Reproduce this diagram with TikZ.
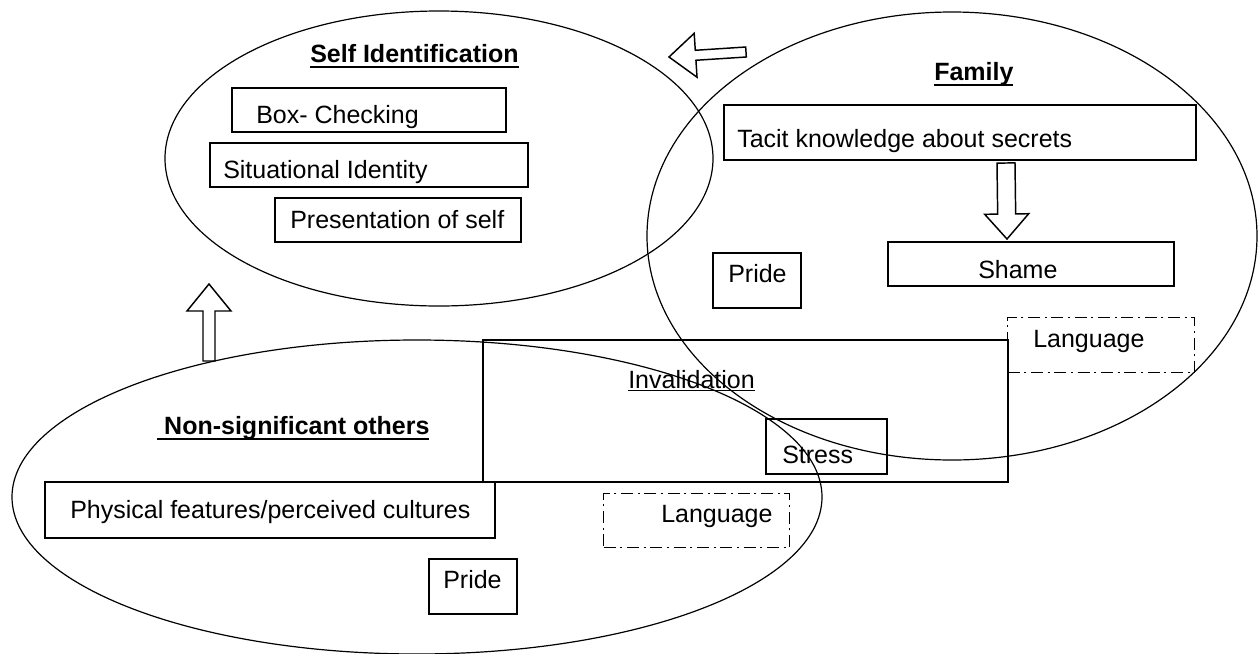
\documentclass[tikz,border=0pt]{standalone}
\usepackage{fontspec}
\setmainfont{Liberation Sans}
\usetikzlibrary{shapes.geometric,calc}
\newcommand\ulx[3]{\setbox0\hbox{#3}\rlap{\rule[#1]{\wd0}{#2}}\box0}
% block arrow: #1 tail, #2 tip, #3 shaft half width, #4 head half width, #5 head length
\newcommand\blockarr[5]{%
  \coordinate (hb) at ($(#2)!#5!(#1)$);
  \draw[arrowline] ($(#1)!#3!90:(#2)$) -- ($(hb)!#3!90:(#2)$) -- ($(hb)!#4!90:(#2)$)
    -- (#2) -- ($(hb)!#4!-90:(#2)$) -- ($(hb)!#3!-90:(#2)$) -- ($(#1)!#3!-90:(#2)$) -- cycle;}
\begin{document}
\begin{tikzpicture}[x=0.75pt,y=-0.75pt,
  oval/.style={draw, ellipse, line width=0.9pt, inner sep=0pt},
  box/.style={draw, line width=1.2pt, inner sep=0pt, anchor=north west},
  dbox/.style={box, line width=1.1pt, dash pattern=on 9pt off 3.5pt on 1.5pt off 3.5pt},
  sz/.style 2 args={minimum width=#1*0.75pt, minimum height=#2*0.75pt},
  txt/.style={inner sep=0pt, anchor=base west, font=\fontsize{18.75pt}{22pt}\selectfont},
  ttl/.style={inner sep=0pt, anchor=base west, font=\fontsize{18.75pt}{22pt}\selectfont\bfseries},
  arrowline/.style={line width=1.1pt, line join=miter}]

\useasboundingbox (0,0) rectangle (1258,654);

% ellipses
\node[oval, sz={548}{295}] (self) at (439,158.5) {};
\node[oval, sz={610}{448}] (family) at (952,236) {};
\node[oval, sz={810}{314}] (nonsig) at (417,497) {};

% Self identification
\node[ttl] (selft) at (310,62) {\ulx{-4.8pt}{1.9pt}{Self Identification}};
\node[box, sz={274}{44}] (boxc) at (231,87) {};
\node[txt] (boxct) at (256,123) {Box- Checking};
\node[box, sz={318}{44}] (situ) at (209,142) {};
\node[txt] (situt) at (223,178) {Situational Identity};
\node[box, sz={246}{44}] (pres) at (274,197) {};
\node[txt] (prest) at (290,228) {Presentation of self};

% Family
\node[ttl] (famt) at (934,80) {\ulx{-4.7pt}{1.9pt}{Family}};
\node[box, sz={472}{55}] (tacit) at (723,104) {};
\node[txt] (tacitt) at (737,147) {Tacit knowledge about secrets};
\node[box, sz={286}{44}] (shame) at (887,241) {};
\node[txt] (shamet) at (978,278) {Shame};
\node[box, sz={88}{55}] (pridef) at (712,252) {};
\node[txt] (pridefjt) at (728,282) {Pride};
\node[dbox, sz={187}{55}] (langf) at (1007,317) {};
\node[txt] (langft) at (1033,347) {Language};

% Invalidation
\node[box, sz={525}{142}] (inval) at (482,339) {};
\node[txt] (invalt) at (628,388) {\ulx{-2.6pt}{0.9pt}{Invalidation}};
\node[box, sz={121}{55}] (stress) at (765,418) {};
\node[txt] (stresst) at (782,463) {Stress};

% Non-significant others
\node[ttl] (nonsigt) at (157,434) {\ulx{-4.7pt}{1.9pt}{\ Non-significant others}};
\node[box, sz={450}{56}] (phys) at (44,481) {};
\node[txt] (physt) at (70,518) {Physical features/perceived cultures};
\node[dbox, sz={186}{54}] (langn) at (603,493) {};
\node[txt] (langnt) at (661,522) {Language};
\node[box, sz={88}{55}] (priden) at (428,558) {};
\node[txt] (prident) at (443,588) {Pride};

% block arrows
\coordinate (upA) at (209,361);
\coordinate (upB) at (209,284);
\blockarr{upA}{upB}{4.5pt}{16.5pt}{20.25pt}
\coordinate (lfA) at (746,52);
\coordinate (lfB) at (669,57);
\blockarr{lfA}{lfB}{3.75pt}{16.5pt}{20pt}
\coordinate (dnA) at (1006,163);
\coordinate (dnB) at (1007,239);
\blockarr{dnA}{dnB}{6.75pt}{16.5pt}{18.75pt}
\end{tikzpicture}
\end{document}
